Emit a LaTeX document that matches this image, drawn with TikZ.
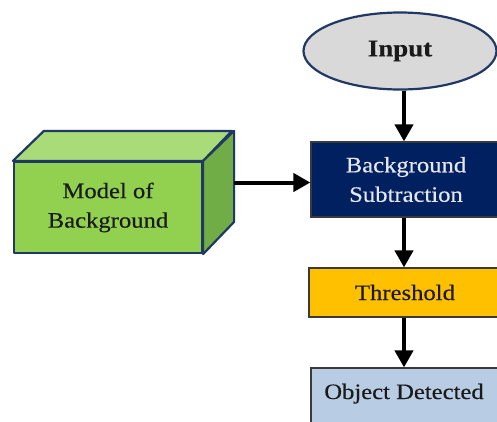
\documentclass[tikz,border=0pt]{standalone}
\usepackage{fontspec}
\setmainfont[FakeStretch=1.12,FakeBold=0.35]{Liberation Serif}
\usetikzlibrary{arrows.meta,shapes.geometric,calc}

\definecolor{navy}{HTML}{002060}
\definecolor{edgenavy}{HTML}{1F3864}
\definecolor{inputgray}{HTML}{D9D9D9}
\definecolor{greenfront}{HTML}{92D050}
\definecolor{greentop}{HTML}{A9DC78}
\definecolor{greenside}{HTML}{70AD47}
\definecolor{gold}{HTML}{FFC000}
\definecolor{paleblue}{HTML}{B8CCE4}
\definecolor{inkdark}{HTML}{1A1A1A}
\definecolor{boxedge}{HTML}{3A3A3A}
\definecolor{palelabel}{HTML}{E4E6F0}

\tikzset{
  label text/.style={font=\fontsize{22}{29.5}\selectfont, align=center, text=inkdark},
  flowbox/.style={rectangle, draw=boxedge, line width=1.2pt, inner sep=0pt, label text},
  flowarrow/.style={line width=4pt, -{Triangle[width=18pt,length=17pt]}, black},
  faceline/.style={draw=edgenavy, line width=2.2pt, line join=round},
}

\begin{document}
\begin{tikzpicture}[x=1pt,y=-1pt]
  \useasboundingbox (0,0) rectangle (497,421);
  \fill[white] (0,0) rectangle (497,421);

  % Input terminal
  \node[ellipse, draw=edgenavy, line width=2.2pt, fill=inputgray,
        minimum width=193pt, minimum height=77pt, inner sep=0pt, label text,
        font=\fontsize{24}{29}\selectfont\bfseries] (input) at (400,51) {Input};

  % Processing chain
  \node[flowbox, fill=navy, text=palelabel, minimum width=190pt, minimum height=75pt]
        (bgsub) at (406,179.5) {Background\\Subtraction};
  \node[flowbox, fill=gold, minimum width=192pt, minimum height=49pt]
        (thresh) at (405,292.5) {Threshold};
  \node[flowbox, fill=paleblue, minimum width=190pt, minimum height=70pt]
        (objdet) at (406,403) {};
  \node[label text, anchor=base] (objtext) at (404,399) {Object Detected};

  % Background model drawn as a box in perspective
  \node[rectangle, faceline, fill=greenfront, minimum width=188pt, minimum height=91pt,
        inner sep=0pt, label text] (model) at (108,207.5) {Model of\\Background};
  \path[faceline, fill=greentop]
    (model.north west) -- ++(31,-30) -- ++(188,0) -- (model.north east) -- cycle;
  \path[faceline, fill=greenside]
    (model.north east) -- ++(31,-30) -- ++(0,91) -- (model.south east) -- cycle;
  \coordinate (modelout) at ($(model.east)+(31,-25)$);

  % Connectors
  \draw[flowarrow] (modelout) -- (modelout -| bgsub.west);
  \draw[flowarrow] (input.south -| objtext) -- (bgsub.north -| objtext);
  \draw[flowarrow] (bgsub.south -| objtext) -- (thresh.north -| objtext);
  \draw[flowarrow] (thresh.south -| objtext) -- (objdet.north -| objtext);
\end{tikzpicture}
\end{document}
